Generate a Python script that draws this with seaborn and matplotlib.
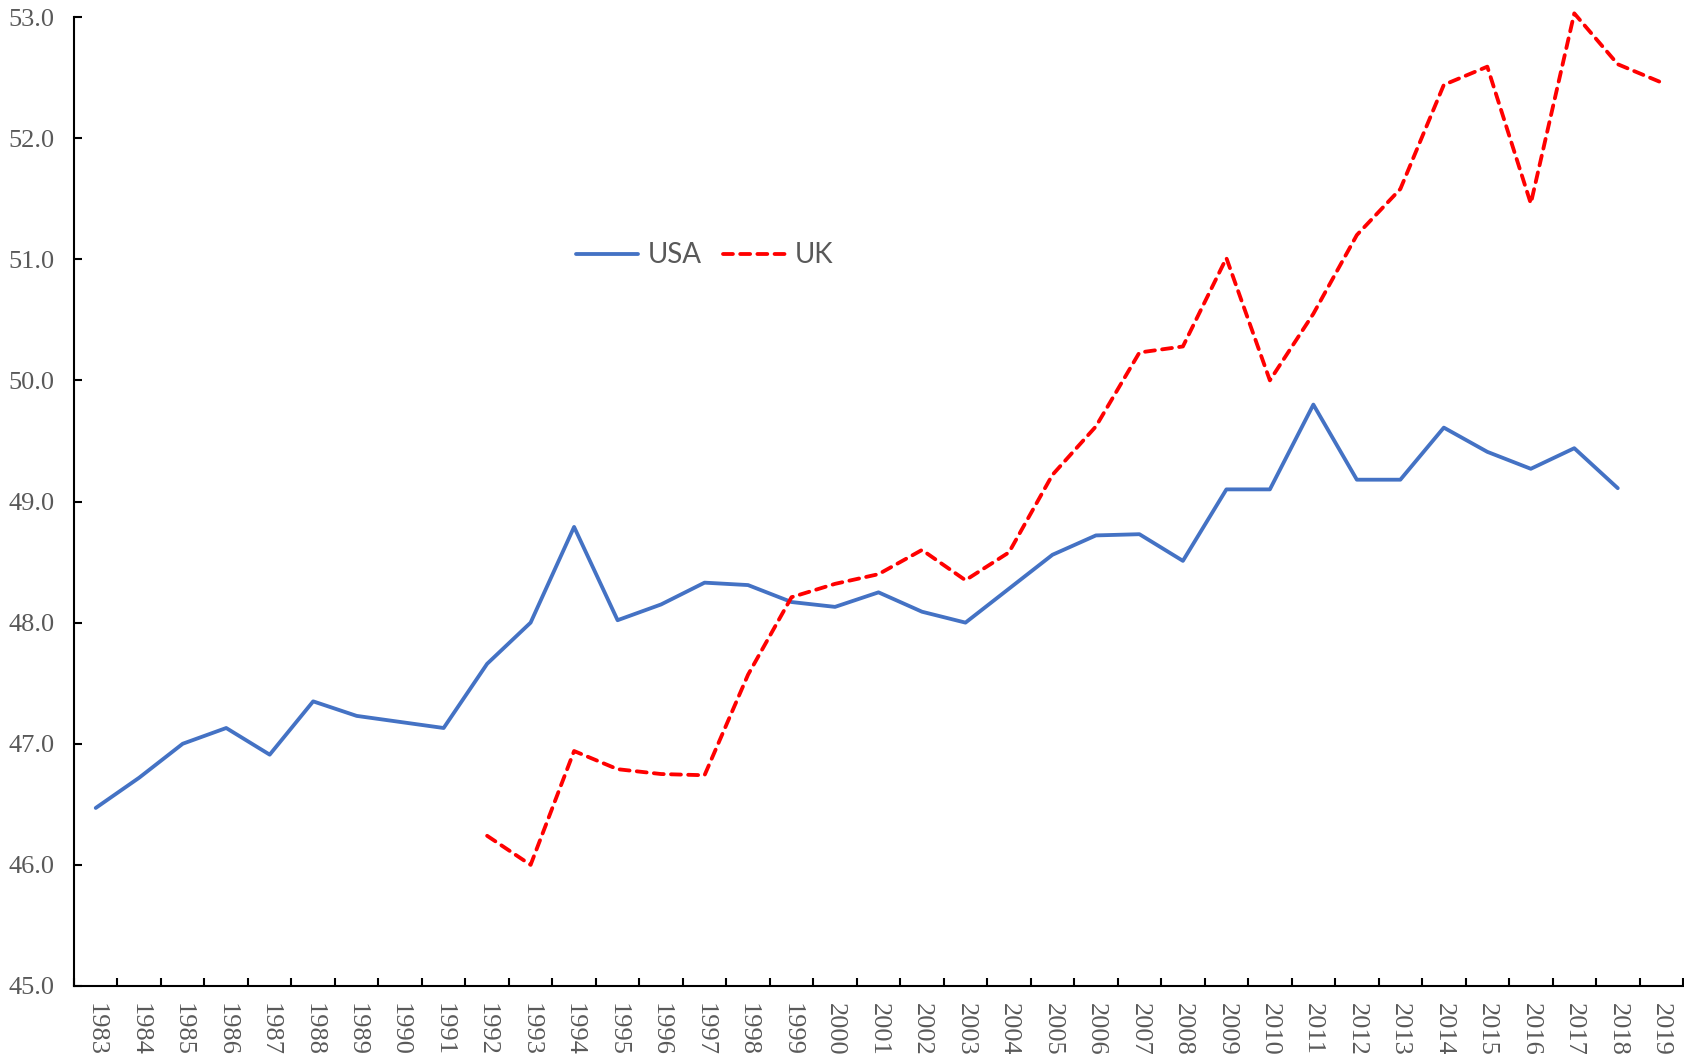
import pandas as pd
import numpy as np
import matplotlib
matplotlib.use("Agg")
import matplotlib.pyplot as plt
import seaborn as sns

###-------DATA------###
years = list(range(1983, 2020))

usa_years = list(range(1983, 2019))
usa_vals = [46.47, 46.72, 47.00, 47.13, 46.91, 47.35, 47.23, 47.18, 47.13, 47.66,
            48.00, 48.79, 48.02, 48.15, 48.33, 48.31, 48.17, 48.13, 48.25, 48.09,
            48.00, 48.28, 48.56, 48.72, 48.73, 48.51, 49.10, 49.10, 49.80, 49.18,
            49.18, 49.61, 49.41, 49.27, 49.44, 49.11]

uk_years = list(range(1992, 2020))
uk_vals = [46.24, 46.00, 46.94, 46.79, 46.75, 46.74, 47.57, 48.21, 48.32, 48.40,
           48.60, 48.35, 48.58, 49.22, 49.62, 50.23, 50.28, 51.01, 50.00, 50.55,
           51.20, 51.58, 52.44, 52.59, 51.46, 53.03, 52.61, 52.46]

yticks = [45.0, 46.0, 47.0, 48.0, 49.0, 50.0, 51.0, 52.0, 53.0]

usa_df = pd.DataFrame({"year": usa_years, "value": usa_vals})
uk_df = pd.DataFrame({"year": uk_years, "value": uk_vals})

###-------PLOT------###
sns.set_style("white")
plt.rcParams["xtick.bottom"] = True
plt.rcParams["ytick.left"] = True

fig = plt.figure(figsize=(16.84, 10.54), dpi=100)
ax = fig.add_axes([74 / 1684, 1 - 986 / 1054, 1609 / 1684, 969 / 1054])

sns.lineplot(data=usa_df, x="year", y="value", ax=ax, color="#4472C4",
             linewidth=2.75, label="USA", clip_on=False, solid_capstyle="round")
sns.lineplot(data=uk_df, x="year", y="value", ax=ax, color="#FF0000",
             linewidth=2.75, linestyle=(0, (2.6, 1.9)), label="UK", clip_on=False,
             dash_capstyle="round")

ax.set_xlim(years[0] - 0.5, years[-1] + 0.5)
ax.set_ylim(45, 53)

# year labels centred, tick marks between categories
ax.set_xticks(years)
ax.set_xticklabels([str(y) for y in years], rotation=270, fontfamily="Liberation Serif",
                   fontsize=19, color="#595959")
ax.set_xticks(np.arange(years[0] - 0.5, years[-1] + 1.0, 1.0), minor=True)
ax.tick_params(axis="x", which="major", length=0, pad=12)
ax.tick_params(axis="x", which="minor", direction="in", length=6, width=1.5, color="black")

ax.set_yticks(yticks)
ax.set_yticklabels(["{:.1f}".format(v) for v in yticks], fontfamily="Liberation Serif",
                   fontsize=19, color="#595959")
ax.tick_params(axis="y", direction="in", length=6, width=1.5, color="black", pad=14)

for s in ["top", "right"]:
    ax.spines[s].set_visible(False)
for s in ["left", "bottom"]:
    ax.spines[s].set_color("black")
    ax.spines[s].set_linewidth(1.5)

ax.set_xlabel("")
ax.set_ylabel("")

leg = ax.legend(loc="center", bbox_to_anchor=(0.392, 0.754), ncol=2, frameon=False,
                prop={"family": "Lato", "size": 20}, handlelength=2.25,
                handletextpad=0.35, columnspacing=0.75)
for t in leg.get_texts():
    t.set_color("#595959")

fig.savefig("out.png", dpi=100)
